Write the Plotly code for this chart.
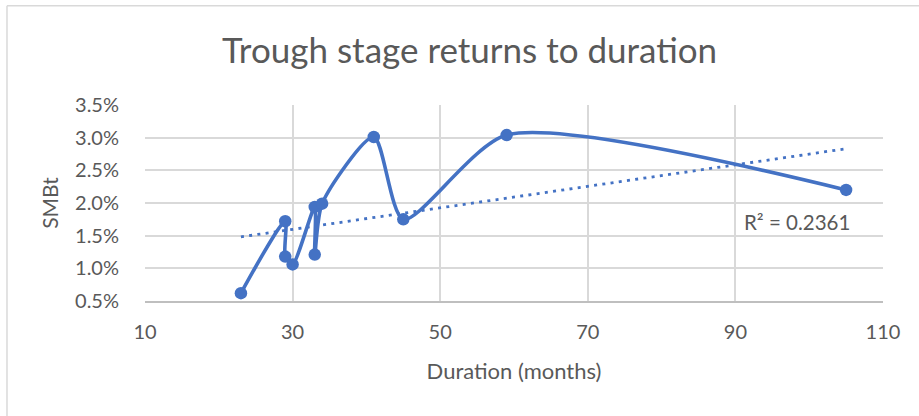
import numpy as np
import plotly.graph_objects as go

# Trough-stage observations: duration in months and SMBt return
duration = [23, 29, 29, 30, 33, 33, 34, 41, 45, 59, 105]
smbt = [0.0062, 0.0172, 0.0118, 0.0106, 0.0194, 0.0121, 0.0199, 0.0301, 0.0175, 0.0304, 0.0220]

x_ticks = [10, 30, 50, 70, 90, 110]
r2_label = "R² = 0.2361"

BLUE = "#4472C4"
GRID = "#D9D9D9"
TEXT = "#595959"
FONT = "Lato"

# Linear trendline over the data range
slope, intercept = np.polyfit(duration, smbt, 1)
trend_x = [min(duration), max(duration)]
trend_y = [slope * v + intercept for v in trend_x]

fig = go.Figure()

fig.add_trace(go.Scatter(
    x=trend_x, y=trend_y, mode="lines",
    line=dict(color=BLUE, width=2.8, dash="3px,5.3px"),
    hoverinfo="skip", showlegend=False,
))

fig.add_trace(go.Scatter(
    x=duration, y=smbt, mode="lines+markers",
    line=dict(color=BLUE, width=3.6, shape="spline", smoothing=0.7),
    marker=dict(color=BLUE, size=12.5),
    showlegend=False,
))

fig.add_annotation(
    x=90.9, y=0.0171, xref="x", yref="y", text=r2_label, showarrow=False,
    xanchor="left", yanchor="middle",
    font=dict(family=FONT, size=20.5, color=TEXT),
)

# chart-area border (left and top edges)
fig.add_shape(type="line", xref="paper", yref="paper",
              x0=-0.187, x1=-0.187, y0=-0.6, y1=1.506,
              line=dict(color=GRID, width=1.5), layer="below")
fig.add_shape(type="line", xref="paper", yref="paper",
              x0=-0.187, x1=1.1, y0=1.506, y1=1.506,
              line=dict(color=GRID, width=1.5), layer="below")

fig.update_layout(
    width=919, height=416,
    margin=dict(l=145, r=36, t=105, b=115),
    paper_bgcolor="white", plot_bgcolor="white",
    font=dict(family=FONT, color=TEXT),
    title=dict(
        text="Trough stage returns to duration",
        x=0.511, xref="container", xanchor="center",
        y=0.877, yref="container", yanchor="middle",
        font=dict(family=FONT, size=35, color=TEXT),
    ),
    xaxis=dict(
        range=[10, 110], tickvals=x_ticks, ticktext=[str(t) for t in x_ticks],
        showgrid=True, gridcolor=GRID, gridwidth=1.5,
        showline=True, linecolor="#BFBFBF", linewidth=1.5,
        zeroline=False, ticks="", ticklabelstandoff=12,
        tickfont=dict(family=FONT, size=20, color=TEXT),
        title=dict(text="Duration (months)", standoff=22,
                   font=dict(family=FONT, size=22, color=TEXT)),
    ),
    yaxis=dict(
        range=[0.005, 0.035], dtick=0.005, tick0=0.005, tickformat=".1%",
        showgrid=True, gridcolor=GRID, gridwidth=1.5,
        zeroline=False, ticks="outside", ticklen=21,
        tickcolor="rgba(0,0,0,0)",
        tickfont=dict(family=FONT, size=20, color=TEXT),
        title=dict(text="SMBt", standoff=10,
                   font=dict(family=FONT, size=21, color=TEXT)),
    ),
)

fig.write_html("out.html")
